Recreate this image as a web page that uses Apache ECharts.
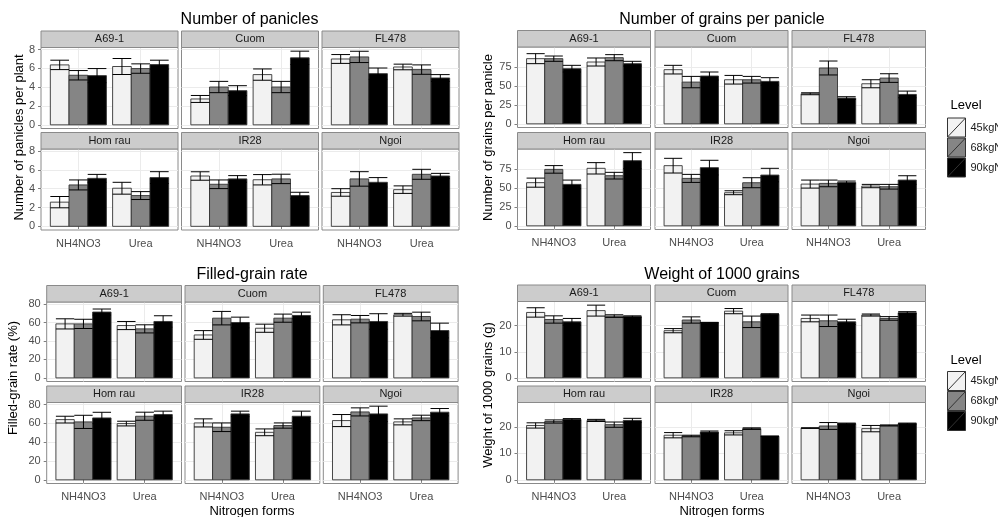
<!DOCTYPE html>
<html><head><meta charset="utf-8">
<script src="https://cdn.jsdelivr.net/npm/echarts@6/dist/echarts.min.js"></script>
<style>html,body{margin:0;padding:0;background:#fff}#c{width:998px;height:517px}</style>
</head><body><div id="c"></div>
<script>
// ---------------- data ----------------
const cultivars = ['A69-1', 'Cuom', 'FL478', 'Hom rau', 'IR28', 'Ngoi'];
const forms = ['NH4NO3', 'Urea'];
const levels = ['45kgN', '68kgN', '90kgN'];
const chartTitles = ['Number of panicles', 'Number of grains per panicle', 'Filled-grain rate', 'Weight of 1000 grains'];
const yTitles = ['Number of panicles per plant', 'Number of grains per panicle', 'Filled-grain rate (%)', 'Weight of 1000 grains (g)'];
const xTitle = 'Nitrogen forms';
const legendTitle = 'Level';

const panicleTicks = [0, 2, 4, 6, 8];
const grainTicks = [0, 25, 50, 75];
const filledTicks = [0, 20, 40, 60, 80];
const weightTicks = [0, 10, 20];

// order: A69-1 NH4NO3, A69-1 Urea, Cuom NH4NO3, Cuom Urea, FL478 ..., Hom rau ..., IR28 ..., Ngoi ...
const panicles45   = [6.37, 6.20, 2.75, 5.34, 7.00, 6.15, 2.57, 4.05, 5.35, 4.95, 3.60, 3.90];
const panicles45se = [0.50, 0.85, 0.37, 0.60, 0.47, 0.30, 0.60, 0.63, 0.45, 0.55, 0.40, 0.40];
const panicles68   = [5.27, 5.98, 4.02, 4.02, 7.22, 5.87, 4.40, 3.27, 4.47, 5.04, 5.04, 5.53];
const panicles68se = [0.50, 0.50, 0.60, 0.60, 0.60, 0.50, 0.53, 0.42, 0.46, 0.50, 0.77, 0.53];
const panicles90   = [5.23, 6.40, 3.63, 7.12, 5.44, 4.98, 5.10, 5.18, 5.04, 3.27, 4.68, 5.35];
const panicles90se = [0.75, 0.47, 0.53, 0.71, 0.60, 0.36, 0.42, 0.63, 0.35, 0.35, 0.50, 0.28];

const grains45   = [86.0, 81.6, 71.5, 58.2, 39.7, 52.9, 57.0, 75.9, 79.4, 43.7, 55.1, 52.5];
const grains45se = [6.6, 5.3, 5.7, 5.7, 1.3, 5.3, 6.0, 7.5, 9.7, 2.6, 5.3, 2.2];
const grains68   = [86.0, 87.3, 55.1, 58.2, 73.7, 60.4, 74.5, 66.2, 62.6, 56.9, 56.0, 51.6];
const grains68se = [3.5, 4.0, 7.5, 4.4, 9.2, 5.7, 5.0, 4.4, 5.3, 6.6, 4.4, 3.1];
const grains90   = [72.8, 79.4, 63.1, 56.0, 34.0, 38.8, 54.7, 86.0, 76.8, 67.0, 57.3, 60.4];
const grains90se = [4.4, 3.1, 5.3, 4.9, 1.8, 4.4, 5.7, 10.6, 9.7, 8.9, 1.8, 5.7];

const filled45   = [58.5, 56.7, 46.5, 53.8, 62.9, 68.4, 64.0, 59.8, 60.5, 50.5, 63.0, 61.6];
const filled45se = [5.5, 4.4, 4.7, 4.4, 5.5, 1.5, 3.6, 2.5, 4.3, 3.6, 6.4, 3.2];
const filled68   = [58.5, 53.1, 64.7, 64.7, 63.6, 66.5, 61.6, 67.6, 55.9, 57.7, 72.2, 65.8];
const filled68se = [5.0, 4.4, 7.3, 4.4, 4.0, 4.7, 7.0, 4.3, 4.6, 2.8, 4.3, 2.9];
const filled90   = [71.3, 61.1, 60.0, 67.6, 61.1, 51.3, 65.8, 69.4, 70.1, 67.6, 70.1, 71.9];
const filled90se = [3.3, 6.2, 5.8, 3.6, 8.4, 8.0, 6.0, 3.6, 2.9, 5.4, 8.2, 3.9];

const weight45   = [25.1, 25.8, 18.1, 25.6, 22.8, 24.1, 20.6, 22.5, 16.9, 17.8, 19.6, 19.4];
const weight45se = [1.8, 2.1, 0.8, 1.0, 1.3, 0.4, 1.0, 0.4, 1.0, 0.8, 0.1, 1.2];
const weight68   = [22.4, 23.7, 22.2, 21.5, 21.9, 22.8, 22.1, 20.9, 16.6, 19.4, 20.4, 20.6];
const weight68se = [1.4, 0.5, 1.2, 2.2, 2.2, 0.7, 0.6, 1.0, 0.3, 0.3, 1.3, 0.2];
const weight90   = [21.5, 23.5, 21.2, 24.4, 21.5, 25.0, 22.9, 22.5, 18.1, 16.5, 21.3, 21.3];
const weight90se = [1.3, 0.3, 0.1, 0.2, 1.0, 0.4, 0.3, 0.8, 0.4, 0.1, 0.2, 0.2];

// ---------------- layout / style ----------------
const FONT = "'Liberation Sans', Arial, Helvetica, sans-serif";
const FILLS = ['#F2F2F2', '#858585', '#000000'];
const BAR_W = 0.3;          // dodge width 0.9 split over 3 levels
const X_RANGE = [0.4, 2.6];
const STRIP_H = 16.5;
const BORDER = '#8A8A8A';
const GRID_COL = '#EBEBEB';
const TICK_TXT = '#4D4D4D';

const FIGS = [
  { means: [panicles45, panicles68, panicles90], ses: [panicles45se, panicles68se, panicles90se], ticks: panicleTicks,
    yRange: [-0.39, 8.22], cols: [[41, 178], [181.5, 318.5], [322, 459]], rows: [[47.5, 128.5], [149, 230]],
    title: [249.5, 20], ytitle: [19, 137.5], xtitle: null },
  { means: [grains45, grains68, grains90], ses: [grains45se, grains68se, grains90se], ticks: grainTicks,
    yRange: [-4.83, 101.4], cols: [[517.5, 650.5], [655, 788], [792, 925.5]], rows: [[47, 127.5], [149, 229.5]],
    title: [722, 20], ytitle: [488, 137.5], xtitle: null },
  { means: [filled45, filled68, filled90], ses: [filled45se, filled68se, filled90se], ticks: filledTicks,
    yRange: [-3.9, 82.2], cols: [[46.7, 181.5], [185, 319.8], [323.3, 458.1]], rows: [[302, 381.5], [402.5, 483.5]],
    title: [252, 275], ytitle: [13, 378], xtitle: [252, 511] },
  { means: [weight45, weight68, weight90], ses: [weight45se, weight68se, weight90se], ticks: weightTicks,
    yRange: [-1.4, 29.3], cols: [[517.5, 650.5], [655, 788], [792, 925.5]], rows: [[301.5, 381.5], [402.5, 483.5]],
    title: [722, 275], ytitle: [488, 395], xtitle: [722, 511] }
];
const LEGENDS = [ { left: 947, top: 117.5, title: [966, 105] }, { left: 947, top: 371, title: [966, 360] } ];

function makeBar(j) {
  return function (params, api) {
    const x = api.value(0), v = api.value(1);
    const xc = x + (j - 1) * BAR_W;
    const p0 = api.coord([xc - BAR_W / 2, 0]);
    const p1 = api.coord([xc + BAR_W / 2, v]);
    return { type: 'rect',
      shape: { x: p0[0], y: p1[1], width: p1[0] - p0[0], height: p0[1] - p1[1] },
      style: { fill: FILLS[j], stroke: '#333', lineWidth: 0.9 } };
  };
}
function renderErr(params, api) {
  const x = api.value(0), m = api.value(1), s = api.value(2), j = api.value(3);
  const xc = x + (j - 1) * BAR_W;
  const a = api.coord([xc - BAR_W / 2, m + s]);
  const b = api.coord([xc + BAR_W / 2, m - s]);
  const c = api.coord([xc, m]);
  const st = { stroke: '#000', lineWidth: 1, fill: null };
  return { type: 'group', children: [
    { type: 'line', shape: { x1: a[0], y1: a[1], x2: b[0], y2: a[1] }, style: st },
    { type: 'line', shape: { x1: a[0], y1: b[1], x2: b[0], y2: b[1] }, style: st },
    { type: 'line', shape: { x1: c[0], y1: a[1], x2: c[0], y2: b[1] }, style: st }
  ] };
}

const grids = [], xAxes = [], yAxes = [], series = [], graphics = [];
FIGS.forEach((fig, f) => {
  graphics.push({ type: 'text', x: fig.title[0], y: fig.title[1], z: 10,
    style: { text: chartTitles[f], font: '16px ' + FONT, fill: '#000', textAlign: 'center', textVerticalAlign: 'middle', align: 'center', verticalAlign: 'middle' } });
  graphics.push({ type: 'text', x: fig.ytitle[0], y: fig.ytitle[1], rotation: Math.PI / 2, z: 10,
    style: { text: yTitles[f], font: '13px ' + FONT, fill: '#000', textAlign: 'center', textVerticalAlign: 'middle', align: 'center', verticalAlign: 'middle' } });
  if (fig.xtitle) graphics.push({ type: 'text', x: fig.xtitle[0], y: fig.xtitle[1], z: 10,
    style: { text: xTitle, font: '13px ' + FONT, fill: '#000', textAlign: 'center', textVerticalAlign: 'middle', align: 'center', verticalAlign: 'middle' } });
  for (let k = 0; k < 6; k++) {
    const r = Math.floor(k / 3), c = k % 3;
    const col = fig.cols[c], row = fig.rows[r];
    const gi = grids.length;
    grids.push({ left: col[0], top: row[0], width: col[1] - col[0], height: row[1] - row[0],
      show: true, backgroundColor: '#fff', borderColor: BORDER, borderWidth: 1, containLabel: false });
    xAxes.push({ gridIndex: gi, type: 'value', min: X_RANGE[0], max: X_RANGE[1],
      axisLine: { show: false },
      axisTick: { show: r === 1, customValues: [1, 2], length: 3, lineStyle: { color: '#7F7F7F' } },
      axisLabel: { show: r === 1, customValues: [1, 2], formatter: v => forms[Math.round(v) - 1], fontSize: 11, fontFamily: FONT, color: TICK_TXT, margin: 8 },
      splitLine: { show: true, lineStyle: { color: GRID_COL, width: 1 } } });
    yAxes.push({ gridIndex: gi, type: 'value', min: fig.yRange[0], max: fig.yRange[1],
      axisLine: { show: false },
      axisTick: { show: c === 0, customValues: fig.ticks, length: 3, lineStyle: { color: '#7F7F7F' } },
      axisLabel: { show: c === 0, customValues: fig.ticks, fontSize: 11, fontFamily: FONT, color: TICK_TXT, margin: 6 },
      splitLine: { show: true, lineStyle: { color: GRID_COL, width: 1 } } });
    // strip
    graphics.push({ type: 'rect', z: 5, shape: { x: col[0], y: row[0] - STRIP_H, width: col[1] - col[0], height: STRIP_H },
      style: { fill: '#CCCCCC', stroke: BORDER, lineWidth: 1 } });
    graphics.push({ type: 'text', z: 6, x: (col[0] + col[1]) / 2, y: row[0] - STRIP_H / 2,
      style: { text: cultivars[k], font: '11px ' + FONT, fill: '#1A1A1A', textAlign: 'center', textVerticalAlign: 'middle', align: 'center', verticalAlign: 'middle' } });
    const errData = [];
    for (let j = 0; j < 3; j++) {
      const data = forms.map((fm, i) => [i + 1, fig.means[j][2 * k + i]]);
      series.push({ type: 'custom', name: levels[j], xAxisIndex: gi, yAxisIndex: gi, data, renderItem: makeBar(j), z: 2,
        itemStyle: { color: FILLS[j], borderColor: '#333', borderWidth: 1 } });
      forms.forEach((fm, i) => errData.push([i + 1, fig.means[j][2 * k + i], fig.ses[j][2 * k + i], j]));
    }
    series.push({ type: 'custom', xAxisIndex: gi, yAxisIndex: gi, data: errData, renderItem: renderErr, z: 3, silent: true });
  }
});
LEGENDS.forEach(lg => {
  graphics.push({ type: 'text', x: lg.title[0], y: lg.title[1], z: 10,
    style: { text: legendTitle, font: '13px ' + FONT, fill: '#000', textAlign: 'center', textVerticalAlign: 'middle', align: 'center', verticalAlign: 'middle' } });
});

const chart = echarts.init(document.getElementById('c'), null, { renderer: 'canvas' });
chart.setOption({
  animation: false,
  backgroundColor: '#fff',
  grid: grids, xAxis: xAxes, yAxis: yAxes, series,
  legend: LEGENDS.map(lg => ({
    orient: 'vertical', left: lg.left, top: lg.top, padding: 0, itemWidth: 18, itemHeight: 19, itemGap: 0,
    selectedMode: false, data: levels, icon: 'path://M0,0H18V19H0Z M0,19L18,0',
    itemStyle: { borderColor: '#333', borderWidth: 1 },
    textStyle: { fontSize: 11, fontFamily: FONT, color: '#1A1A1A' }
  })),
  graphic: { elements: graphics }
});
</script></body></html>
